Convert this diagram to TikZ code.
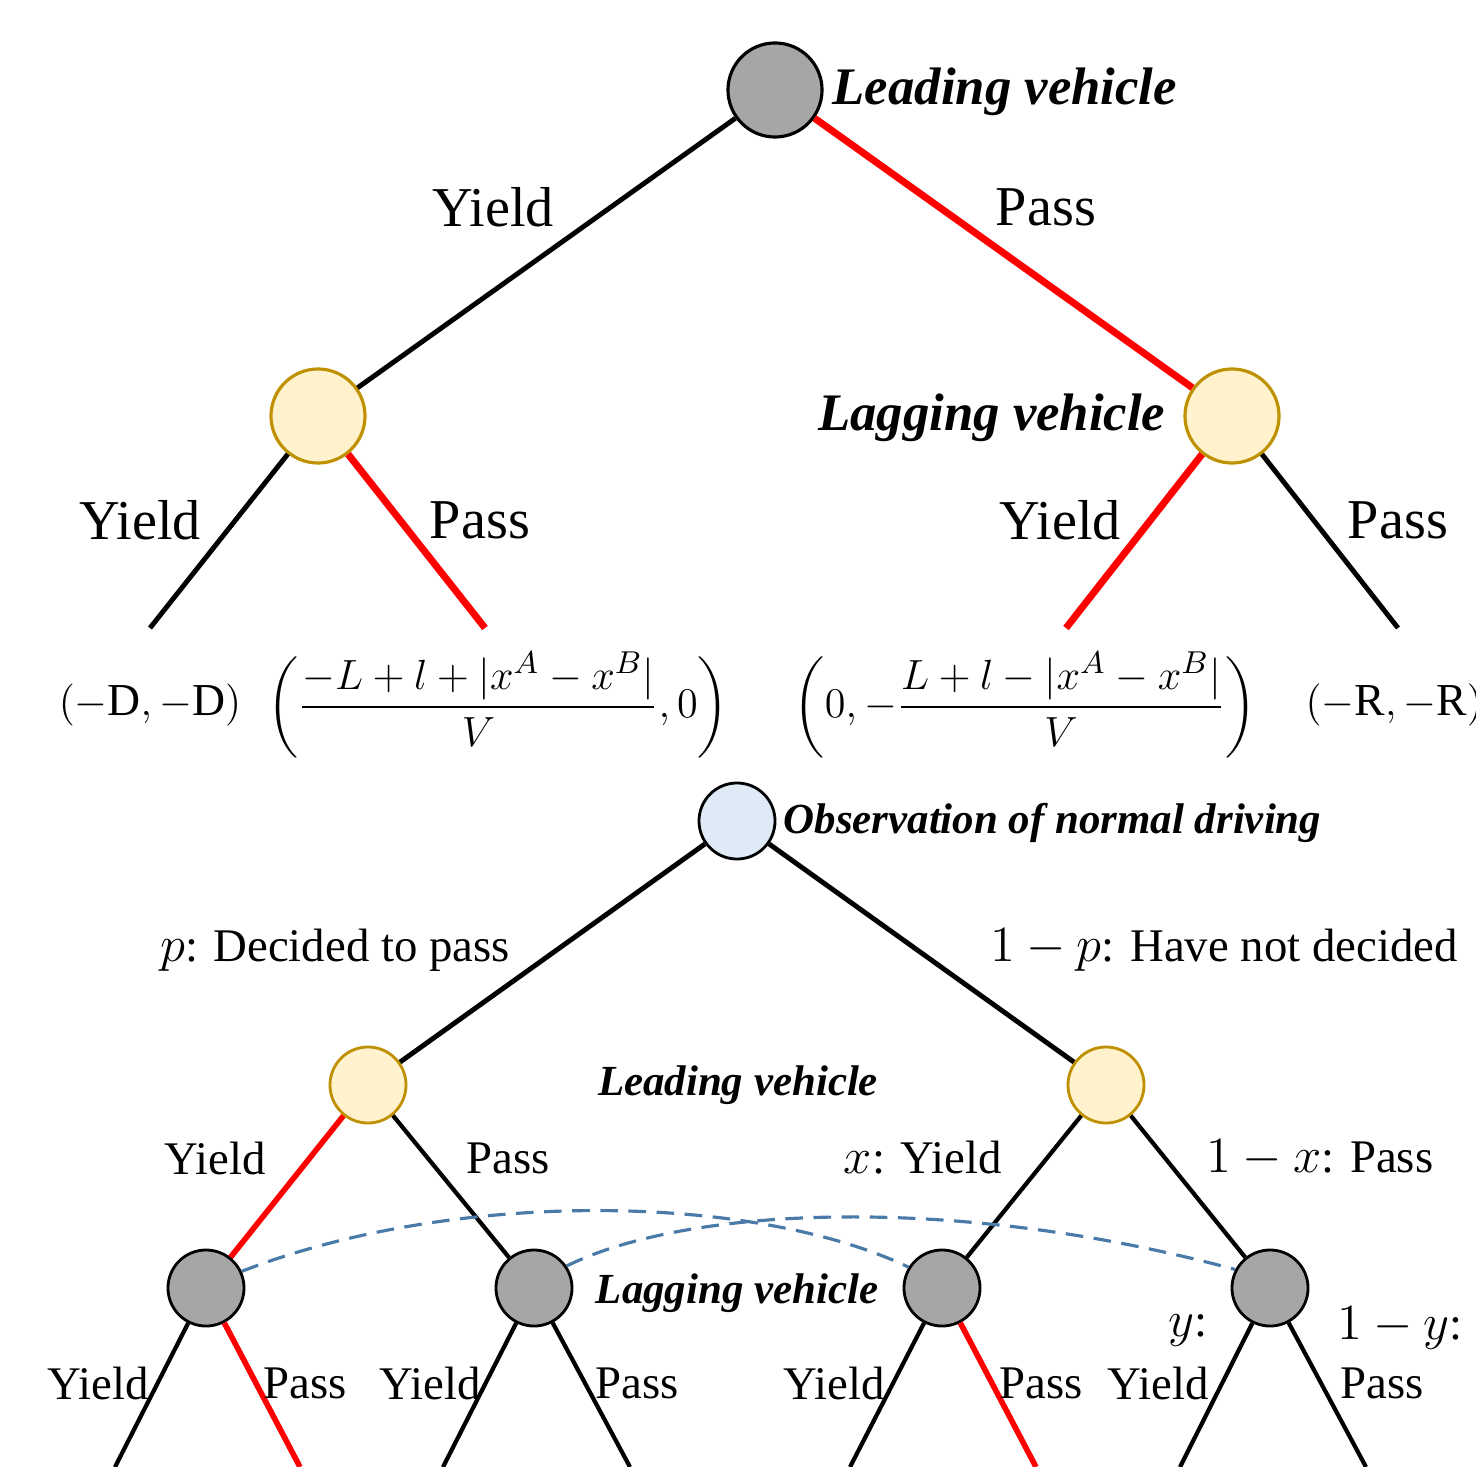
\documentclass[tikz,border=0pt]{standalone}
\usepackage{fontspec}
\setmainfont{Liberation Serif}
\usepackage{amsmath}

\definecolor{nodegray}{HTML}{A6A6A6}
\definecolor{nodeyellow}{HTML}{FFF2CC}
\definecolor{nodegold}{HTML}{BF9000}
\definecolor{nodeblue}{HTML}{DEEBF7}
\definecolor{infoblue}{HTML}{4A7BA8}

\tikzset{
  decbig/.style={circle,line width=0.9pt,minimum size=0.94cm,inner sep=0pt},
  decsmall/.style={circle,line width=0.8pt,minimum size=0.76cm,inner sep=0pt},
  grayfill/.style={draw=black,fill=nodegray},
  yellowfill/.style={draw=nodegold,fill=nodeyellow},
  bluefill/.style={draw=black,fill=nodeblue},
  bigtxt/.style={font=\fontsize{16}{19}\selectfont,inner sep=0pt},
  smalltxt/.style={font=\fontsize{13.3}{16}\selectfont,inner sep=0pt},
  bigtitle/.style={font=\fontsize{15}{18}\selectfont\bfseries\itshape,inner sep=0pt},
  smalltitle/.style={font=\fontsize{12.2}{15}\selectfont\bfseries\itshape,inner sep=0pt},
  paytxt/.style={font=\fontsize{13}{16}\selectfont,inner sep=0pt},
  edge/.style={line width=1.4pt},
  redge/.style={line width=2pt,red},
  sedge/.style={line width=1.2pt},
  sredge/.style={line width=1.6pt,red},
  infoset/.style={dash pattern=on 5pt off 3pt,line width=0.9pt,infoblue}
}

\begin{document}
\begin{tikzpicture}[x=0.01cm,y=-0.01cm]
\useasboundingbox (0,0) rectangle (1476,1467);

% upper game: leading vehicle moves first
\node[decbig,grayfill] (lead) at (775,90) {};
\node[decbig,yellowfill] (lagL) at (318,416) {};
\node[decbig,yellowfill] (lagR) at (1232,416) {};
\coordinate (endLY) at (150,628);
\coordinate (endLP) at (485,628);
\coordinate (endRY) at (1066,628);
\coordinate (endRP) at (1398,628);

\draw[edge] (lead) -- (lagL);
\draw[redge] (lead) -- (lagR);
\draw[edge] (lagL) -- (endLY);
\draw[redge] (lagL) -- (endLP);
\draw[redge] (lagR) -- (endRY);
\draw[edge] (lagR) -- (endRP);

\node[bigtitle,anchor=west] (leadtxt) at (832,92) {Leading vehicle};
\node[bigtitle,anchor=east] (lagtxt) at (1166,418) {Lagging vehicle};
\node[bigtxt] at (493,207) {Yield};
\node[bigtxt] at (1046,207) {Pass};
\node[bigtxt] at (140,520) {Yield};
\node[bigtxt] at (480,520) {Pass};
\node[bigtxt] at (1060,520) {Yield};
\node[bigtxt] at (1398,520) {Pass};

% payoffs
\node[paytxt] (payLY) at (150,705) {$(-\mathrm{D},-\mathrm{D})$};
\node[paytxt] (payLP) at (498,705) {$\left(\dfrac{-L+l+|x^A-x^B|}{V},0\right)$};
\node[paytxt] (payRY) at (1025,705) {$\left(0,-\dfrac{L+l-|x^A-x^B|}{V}\right)$};
\node[paytxt,anchor=west] (payRP) at (1305,705) {$(-\mathrm{R},-\mathrm{R})$};

% lower game: observation of normal driving
\node[decsmall,bluefill] (obs) at (737,821) {};
\node[decsmall,yellowfill] (leadL) at (368,1085) {};
\node[decsmall,yellowfill] (leadR) at (1106,1085) {};
\node[decsmall,grayfill] (lagA) at (206,1288) {};
\node[decsmall,grayfill] (lagB) at (534,1288) {};
\node[decsmall,grayfill] (lagC) at (942,1288) {};
\node[decsmall,grayfill] (lagD) at (1270,1288) {};
\coordinate (endA1) at (115,1467);
\coordinate (endA2) at (300,1467);
\coordinate (endB1) at (443,1467);
\coordinate (endB2) at (630,1467);
\coordinate (endC1) at (850,1467);
\coordinate (endC2) at (1036,1467);
\coordinate (endD1) at (1180,1467);
\coordinate (endD2) at (1366,1467);

\draw[edge] (obs) -- (leadL);
\draw[edge] (obs) -- (leadR);
\draw[sredge] (leadL) -- (lagA);
\draw[sedge] (leadL) -- (lagB);
\draw[sedge] (leadR) -- (lagC);
\draw[sedge] (leadR) -- (lagD);
\draw[sedge] (lagA) -- (endA1);
\draw[sredge] (lagA) -- (endA2);
\draw[sedge] (lagB) -- (endB1);
\draw[sedge] (lagB) -- (endB2);
\draw[sedge] (lagC) -- (endC1);
\draw[sredge] (lagC) -- (endC2);
\draw[sedge] (lagD) -- (endD1);
\draw[sedge] (lagD) -- (endD2);

% information sets
\draw[infoset] (lagA.25) .. controls (450,1190) and (750,1192) .. (lagC.148);
\draw[infoset] (lagB.34) .. controls (690,1205) and (960,1195) .. (lagD.152);

\node[smalltitle,anchor=west] (obstxt) at (783,823) {Observation of normal driving};
\node[smalltitle] (leadtxt2) at (738,1085) {Leading vehicle};
\node[smalltitle] (lagtxt2) at (737,1293) {Lagging vehicle};
\node[smalltxt] at (335,950) {$p$: Decided to pass};
\node[smalltxt] at (1224,950) {$1-p$: Have not decided};
\node[smalltxt] at (215,1158) {Yield};
\node[smalltxt] at (508,1158) {Pass};
\node[smalltxt] at (923,1158) {$x$: Yield};
\node[smalltxt] at (1320,1158) {$1-x$: Pass};
\node[smalltxt] at (98,1383) {Yield};
\node[smalltxt] at (305,1383) {Pass};
\node[smalltxt] at (430,1383) {Yield};
\node[smalltxt] at (637,1383) {Pass};
\node[smalltxt] at (834,1383) {Yield};
\node[smalltxt] at (1041,1383) {Pass};
\node[smalltxt] at (1188,1330) {$y$:};
\node[smalltxt] at (1158,1383) {Yield};
\node[smalltxt] at (1400,1328) {$1-y$:};
\node[smalltxt] at (1382,1383) {Pass};

\end{tikzpicture}
\end{document}
